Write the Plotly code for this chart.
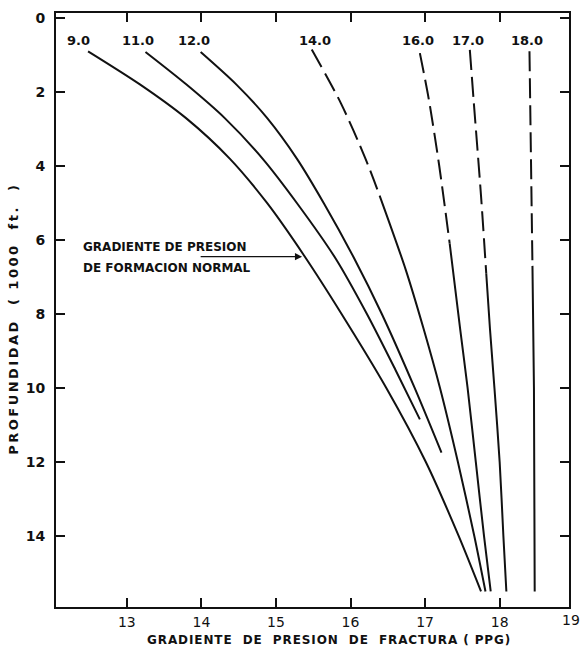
import plotly.graph_objects as go

# ---- data (depth in 1000 ft, fracture gradient in ppg) ----
curve_labels = ["9.0", "11.0", "12.0", "14.0", "16.0", "17.0", "18.0"]

d9 = [0.9, 1.8, 2.7, 3.8, 5.0, 6.4, 8.0, 10.0, 12.0, 14.0, 15.5]
x9 = [12.48, 13.18, 13.79, 14.38, 14.88, 15.37, 15.88, 16.48, 17.01, 17.45, 17.75]

d11 = [0.92, 1.8, 2.7, 3.8, 5.0, 6.5, 8.0, 9.5, 10.85]
x11 = [13.25, 13.8, 14.31, 14.82, 15.28, 15.8, 16.22, 16.6, 16.93]

d12 = [0.92, 1.8, 2.7, 3.8, 5.0, 6.5, 8.0, 10.0, 11.75]
x12 = [13.99, 14.47, 14.88, 15.28, 15.64, 16.05, 16.42, 16.86, 17.22]

d14 = [0.85, 2.3, 3.8, 4.8, 6.8, 8.4, 10.0, 12.0, 14.0, 15.5]
x14 = [15.48, 15.87, 16.2, 16.39, 16.74, 16.98, 17.2, 17.44, 17.66, 17.81]

d16 = [0.95, 2.2, 4.0, 6.1, 8.4, 10.0, 12.0, 14.0, 15.5]
x16 = [16.93, 17.05, 17.19, 17.33, 17.47, 17.57, 17.68, 17.79, 17.88]

d17 = [0.86, 2.2, 4.8, 6.9, 8.4, 10.0, 12.0, 14.0, 15.5]
x17 = [17.6, 17.65, 17.75, 17.82, 17.87, 17.93, 18.0, 18.05, 18.09]

d18 = [0.9, 6.7, 10.0, 15.5]
x18 = [18.4, 18.44, 18.46, 18.47]

# index of the last point of the dashed (upper) part; None = fully solid
dash_end = [None, None, None, 3, 3, 3, 1]

label_x = [12.35, 13.15, 13.9, 15.53, 16.9, 17.57, 18.37]
label_d = [0.62, 0.62, 0.62, 0.62, 0.62, 0.62, 0.62]

x_ticks = [13, 14, 15, 16, 17, 18]
y_ticks = [0, 2, 4, 6, 8, 10, 12, 14]

normal_lines = ["GRADIENTE DE PRESION", "DE FORMACION NORMAL"]
normal_line_d = [6.2, 6.76]
arrow_tip = (15.35, 6.45)
arrow_tail = (13.97, 6.45)

depths = [d9, d11, d12, d14, d16, d17, d18]
grads = [x9, x11, x12, x14, x16, x17, x18]

FONT = "DejaVu Sans"
INK = "#111111"
LW = 2.0

fig = go.Figure()
for d, g, de in zip(depths, grads, dash_end):
    if de is None:
        fig.add_trace(go.Scatter(x=g, y=d, mode="lines",
                                 line=dict(color=INK, width=LW, shape="spline", smoothing=0.8),
                                 showlegend=False, hoverinfo="skip"))
    else:
        fig.add_trace(go.Scatter(x=g[:de + 1], y=d[:de + 1], mode="lines",
                                 line=dict(color=INK, width=LW, dash="20px,7px",
                                           shape="spline", smoothing=0.8),
                                 showlegend=False, hoverinfo="skip"))
        fig.add_trace(go.Scatter(x=g[de:], y=d[de:], mode="lines",
                                 line=dict(color=INK, width=LW, shape="spline", smoothing=0.8),
                                 showlegend=False, hoverinfo="skip"))

annotations = []
for t, lx, ld in zip(curve_labels, label_x, label_d):
    annotations.append(dict(x=lx, y=ld, xref="x", yref="y", text=t, showarrow=False,
                            font=dict(family=FONT, size=13, color=INK, weight="bold")))

for t, ld in zip(normal_lines, normal_line_d):
    annotations.append(dict(x=12.38, y=ld, xref="x", yref="y", text=t,
                            showarrow=False, xanchor="left", yanchor="middle", align="left",
                            font=dict(family=FONT, size=12, color=INK, weight="bold")))
annotations.append(dict(x=arrow_tip[0], y=arrow_tip[1], ax=arrow_tail[0], ay=arrow_tail[1],
                        xref="x", yref="y", axref="x", ayref="y", text="", showarrow=True,
                        arrowhead=2, arrowsize=1.1, arrowwidth=1.3, arrowcolor=INK))
# last x tick label at the right corner
annotations.append(dict(x=1, y=0, xref="paper", yref="paper", text="19", showarrow=False,
                        xanchor="center", yanchor="top", yshift=-3, xshift=2,
                        font=dict(family=FONT, size=14, color=INK)))
annotations.append(dict(x=0.532, y=-0.056, xref="paper", yref="paper",
                        text='<span style="letter-spacing:0.9px">GRADIENTE\u00a0 DE\u00a0 PRESION\u00a0 DE\u00a0 FRACTURA ( PPG)</span>',
                        showarrow=False, xanchor="center", yanchor="middle",
                        font=dict(family=FONT, size=12, color=INK, weight="bold")))
annotations.append(dict(x=-0.082, y=0.485, xref="paper", yref="paper",
                        text='<span style="letter-spacing:2.5px">PROFUNDIDAD\u00a0 ( 1000\u00a0 ft.\u00a0 )</span>',
                        showarrow=False, textangle=-90, xanchor="center", yanchor="middle",
                        font=dict(family=FONT, size=13, color=INK, weight="bold")))

fig.update_layout(
    width=581, height=656,
    margin=dict(l=56, r=10, t=13, b=49),
    paper_bgcolor="white", plot_bgcolor="white",
    annotations=annotations,
    showlegend=False,
)
fig.update_xaxes(range=[12.05, 18.93], tickvals=x_ticks, ticks="inside", ticklen=9,
                 tickwidth=1.5, tickcolor=INK, showline=True, linecolor=INK, linewidth=2,
                 mirror="ticks", showgrid=False, zeroline=False,
                 tickfont=dict(family=FONT, size=14, color=INK), ticklabelstandoff=1)
fig.update_yaxes(range=[15.92, -0.135], tickvals=y_ticks, ticks="inside", ticklen=9,
                 tickwidth=1.5, tickcolor=INK, showline=True, linecolor=INK, linewidth=2,
                 mirror="ticks", showgrid=False, zeroline=False,
                 tickfont=dict(family=FONT, size=14, color=INK, weight="bold"), ticklabelstandoff=6)

fig.write_html("out.html")
